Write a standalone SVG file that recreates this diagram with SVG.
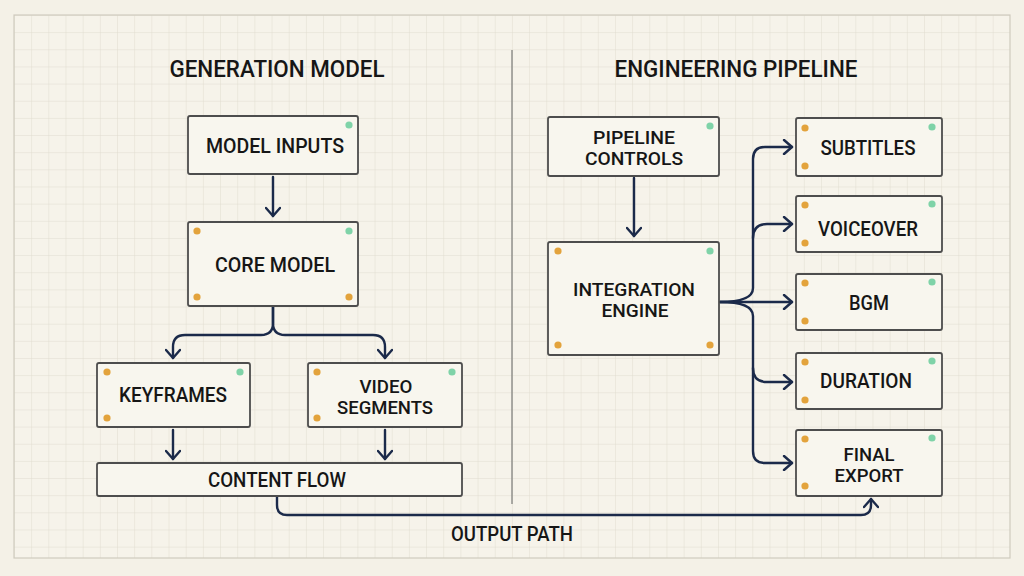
<svg xmlns="http://www.w3.org/2000/svg" width="1024" height="576" viewBox="0 0 1024 576">
<style>
.box{fill:#f8f6ee;stroke:#4d4d4d;stroke-width:1.8}
.t{font-family:Roboto,"Liberation Sans",sans-serif;font-size:20px;font-weight:500;fill:#161616;text-anchor:middle}
.m{font-size:18px}
.h{font-size:23px}
.c{fill:none;stroke:#1b2a4a;stroke-width:2.4;stroke-linecap:round;stroke-linejoin:round}
.o{fill:#e3a33c}
.g{fill:#7fd3a8}
</style>
<defs>
<pattern id="grid" patternUnits="userSpaceOnUse" x="14" y="15" width="17.17" height="17.15">
<path d="M0,0 H17.17 M0,0 V17.15" fill="none" stroke="#e0dccf" stroke-width="1"/>
</pattern>
<marker id="ah" viewBox="0 0 12 16" refX="10" refY="8" markerWidth="12" markerHeight="16" markerUnits="userSpaceOnUse" orient="auto">
<path d="M2,1 L10,8 L2,15" fill="none" stroke="#1b2a4a" stroke-width="2.4" stroke-linecap="round" stroke-linejoin="round"/>
</marker>
</defs>
<rect width="1024" height="576" fill="#f4f1e7"/>
<rect x="14" y="15" width="996" height="543" fill="#f6f3ea"/>
<rect x="14" y="15" width="996" height="543" fill="url(#grid)" stroke="#cfcbbe" stroke-width="1.2"/>
<line x1="512" y1="50" x2="512" y2="504" stroke="#8a8a86" stroke-width="1.4"/>

<text class="t h" x="277" y="77" textLength="215" lengthAdjust="spacingAndGlyphs">GENERATION MODEL</text>
<text class="t h" x="736" y="77" textLength="243" lengthAdjust="spacingAndGlyphs">ENGINEERING PIPELINE</text>

<g id="connectors">
<path class="c" d="M273,177 V216" marker-end="url(#ah)"/>
<path class="c" d="M273,306 V323 Q273,335 261,335 H185 Q173,335 173,347 V358" marker-end="url(#ah)"/>
<path class="c" d="M273,306 V323 Q273,335 285,335 H373 Q385,335 385,347 V358" marker-end="url(#ah)"/>
<path class="c" d="M173,430 V459" marker-end="url(#ah)"/>
<path class="c" d="M385,430 V459" marker-end="url(#ah)"/>
<path class="c" d="M277,496 V505 Q277,515 287,515 H861 Q871,515 871,505 V499" marker-end="url(#ah)"/>
<path class="c" d="M634,178 V236" marker-end="url(#ah)"/>
<path class="c" d="M720,302 H792" marker-end="url(#ah)"/>
<path class="c" d="M720,302 Q753,302 753,288 V159 Q753,147 765,147 H792" marker-end="url(#ah)"/>
<path class="c" d="M753,238 Q753,224 767,224 H792" marker-end="url(#ah)"/>
<path class="c" d="M720,302 Q753,302 753,316 V451 Q753,463 765,463 H792" marker-end="url(#ah)"/>
<path class="c" d="M753,368 Q753,382 767,382 H792" marker-end="url(#ah)"/>
</g>

<g id="model-inputs">
<rect class="box" x="188" y="116" width="170" height="58" rx="2"/>
<circle class="g" cx="349" cy="125" r="3.6"/>
<text class="t" x="275" y="153" textLength="138" lengthAdjust="spacingAndGlyphs">MODEL INPUTS</text>
</g>
<g id="core-model">
<rect class="box" x="188" y="222" width="170" height="84" rx="2"/>
<circle class="o" cx="197" cy="231" r="3.6"/>
<circle class="g" cx="349" cy="231" r="3.6"/>
<circle class="o" cx="197" cy="297" r="3.6"/>
<circle class="o" cx="349" cy="297" r="3.6"/>
<text class="t" x="275" y="272" textLength="120" lengthAdjust="spacingAndGlyphs">CORE MODEL</text>
</g>
<g id="keyframes">
<rect class="box" x="97" y="363" width="153" height="64" rx="2"/>
<circle class="o" cx="107" cy="372" r="3.6"/>
<circle class="g" cx="240" cy="372" r="3.6"/>
<circle class="o" cx="107" cy="418" r="3.6"/>
<text class="t" x="173" y="402" textLength="108" lengthAdjust="spacingAndGlyphs">KEYFRAMES</text>
</g>
<g id="video-segments">
<rect class="box" x="308" y="363" width="154" height="64" rx="2"/>
<circle class="o" cx="317" cy="372" r="3.6"/>
<circle class="g" cx="452" cy="372" r="3.6"/>
<circle class="o" cx="317" cy="418" r="3.6"/>
<text class="t m" x="386" y="393" textLength="53" lengthAdjust="spacingAndGlyphs">VIDEO</text>
<text class="t m" x="385" y="414" textLength="96" lengthAdjust="spacingAndGlyphs">SEGMENTS</text>
</g>
<g id="content-flow">
<rect class="box" x="97" y="463" width="365" height="33" rx="2"/>
<text class="t" x="277" y="487" textLength="138" lengthAdjust="spacingAndGlyphs">CONTENT FLOW</text>
</g>
<text class="t" x="512" y="541" textLength="122" lengthAdjust="spacingAndGlyphs">OUTPUT PATH</text>

<g id="pipeline-controls">
<rect class="box" x="548" y="117" width="171" height="59" rx="2"/>
<circle class="g" cx="710" cy="126" r="3.6"/>
<text class="t m" x="634" y="144" textLength="82" lengthAdjust="spacingAndGlyphs">PIPELINE</text>
<text class="t m" x="634" y="165" textLength="98" lengthAdjust="spacingAndGlyphs">CONTROLS</text>
</g>
<g id="integration-engine">
<rect class="box" x="548" y="242" width="171" height="113" rx="2"/>
<circle class="o" cx="558" cy="251" r="3.6"/>
<circle class="g" cx="710" cy="251" r="3.6"/>
<circle class="o" cx="558" cy="345" r="3.6"/>
<circle class="o" cx="710" cy="345" r="3.6"/>
<text class="t m" x="634" y="296" textLength="122" lengthAdjust="spacingAndGlyphs">INTEGRATION</text>
<text class="t m" x="635" y="317" textLength="67" lengthAdjust="spacingAndGlyphs">ENGINE</text>
</g>
<g id="subtitles">
<rect class="box" x="796" y="118" width="146" height="58" rx="2"/>
<circle class="o" cx="805" cy="128" r="3.6"/>
<circle class="g" cx="932" cy="127" r="3.6"/>
<circle class="o" cx="805" cy="166" r="3.6"/>
<text class="t" x="868" y="155" textLength="95" lengthAdjust="spacingAndGlyphs">SUBTITLES</text>
</g>
<g id="voiceover">
<rect class="box" x="796" y="196" width="146" height="56" rx="2"/>
<circle class="o" cx="805" cy="205" r="3.6"/>
<circle class="g" cx="932" cy="204" r="3.6"/>
<circle class="o" cx="805" cy="243" r="3.6"/>
<text class="t" x="868" y="236" textLength="100" lengthAdjust="spacingAndGlyphs">VOICEOVER</text>
</g>
<g id="bgm">
<rect class="box" x="796" y="274" width="146" height="56" rx="2"/>
<circle class="o" cx="805" cy="283" r="3.6"/>
<circle class="g" cx="932" cy="282" r="3.6"/>
<circle class="o" cx="805" cy="321" r="3.6"/>
<text class="t" x="869" y="310" textLength="40" lengthAdjust="spacingAndGlyphs">BGM</text>
</g>
<g id="duration">
<rect class="box" x="796" y="353" width="146" height="56" rx="2"/>
<circle class="o" cx="805" cy="362" r="3.6"/>
<circle class="g" cx="932" cy="361" r="3.6"/>
<circle class="o" cx="805" cy="400" r="3.6"/>
<text class="t" x="866" y="388" textLength="92" lengthAdjust="spacingAndGlyphs">DURATION</text>
</g>
<g id="final-export">
<rect class="box" x="796" y="430" width="146" height="66" rx="2"/>
<circle class="o" cx="805" cy="439" r="3.6"/>
<circle class="g" cx="932" cy="438" r="3.6"/>
<circle class="o" cx="805" cy="486" r="3.6"/>
<text class="t m" x="869" y="461" textLength="51" lengthAdjust="spacingAndGlyphs">FINAL</text>
<text class="t m" x="869" y="482" textLength="69" lengthAdjust="spacingAndGlyphs">EXPORT</text>
</g>
</svg>
